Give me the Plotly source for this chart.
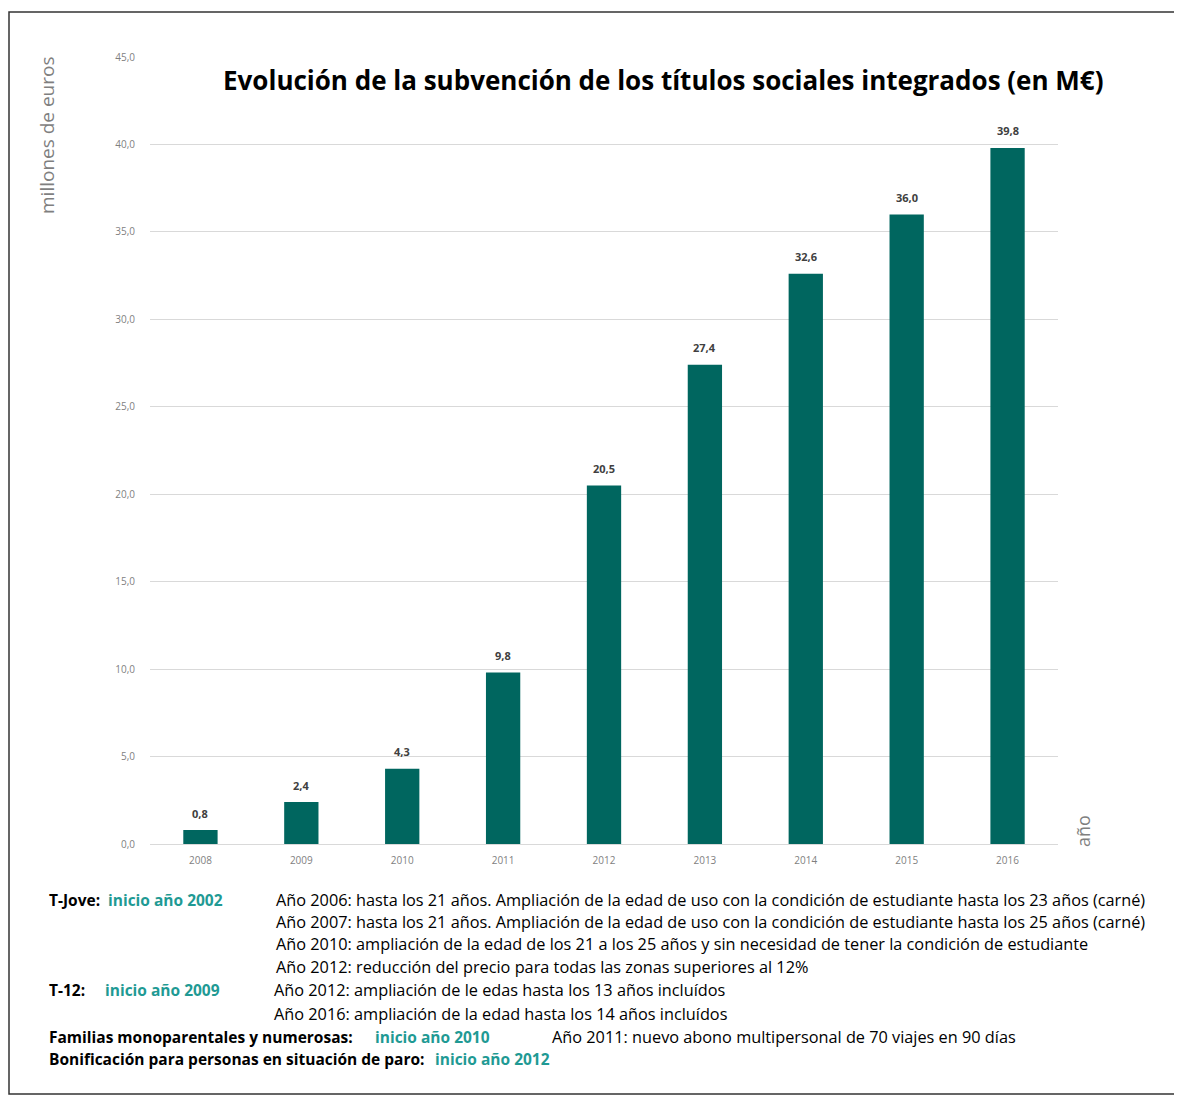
import plotly.graph_objects as go

years = ["2008", "2009", "2010", "2011", "2012", "2013", "2014", "2015", "2016"]
values = [0.8, 2.4, 4.3, 9.8, 20.5, 27.4, 32.6, 36.0, 39.8]
y_ticks = [0, 5, 10, 15, 20, 25, 30, 35, 40, 45]

BAR = "#00665f"
TEAL = "#1f9a94"
FONT = "Open Sans"

OFF = 8  # page body margin
W, H = 1174, 1088
# plot area in screen coordinates
SX0, SX1, SY0, SY1 = 150, 1058, 57, 844
L, T = SX0 - OFF, SY0 - OFF
R = W - (SX1 - OFF)
B = H - (SY1 - OFF)
PW, PH = SX1 - SX0, SY1 - SY0

def px(x):
    return (x - SX0) / PW

def py(y):
    return (SY1 - y) / PH

fig = go.Figure()
fig.add_trace(go.Bar(
    x=years, y=values, marker_color=BAR, marker_line_width=0,
    hoverinfo="x+y",
))

fig.update_layout(
    width=W, height=H,
    margin=dict(l=L, r=R, t=T, b=B),
    paper_bgcolor="white", plot_bgcolor="white",
    separators=",.",
    bargap=0.66,
    showlegend=False,
    font=dict(family=FONT),
    xaxis=dict(type="category", range=[-0.5, len(years) - 0.5], autorange=False,
               showgrid=False, showline=False, ticks="", ticklabelstandoff=9,
               tickfont=dict(size=10, color="#7f7f7f")),
    yaxis=dict(range=[0, 45], autorange=False, tickvals=y_ticks, tickformat=".1f",
               showgrid=True, gridcolor="#d9d9d9", gridwidth=1,
               zeroline=True, zerolinecolor="#d9d9d9", zerolinewidth=1,
               showline=False, ticks="", ticklabelstandoff=14,
               tickfont=dict(size=10, color="#7f7f7f")),
)

# outer border
fig.add_shape(type="rect", xref="paper", yref="paper",
              x0=px(9), x1=px(1180), y0=py(1094), y1=py(12),
              line=dict(color="#333333", width=1.5), fillcolor="rgba(0,0,0,0)", layer="below")

ann = []
# value labels above bars (x = category index)
for i, v in enumerate(values):
    ann.append(dict(xref="x", yref="y", x=i, y=v, text="<b>" + f"{v:.1f}".replace(".", ",") + "</b>",
                    font=dict(size=11, color="#404040"), xanchor="center", yanchor="middle",
                    yshift=17, showarrow=False))

ann.append(dict(x=px(663), y=py(80), text="<b>Evolución de la subvención de los títulos sociales integrados (en M€)</b>",
                font=dict(size=26, color="black"), xanchor="center", yanchor="middle"))
ann.append(dict(x=px(47), y=py(135), text="millones de euros", textangle=-90,
                font=dict(size=19, color="#7f7f7f"), xanchor="center", yanchor="middle"))
ann.append(dict(x=px(1083), y=py(831), text="año", textangle=-90,
                font=dict(size=18, color="#7f7f7f"), xanchor="center", yanchor="middle"))

def t(x, y, text, color="black", size=16.3):
    ann.append(dict(x=px(x), y=py(y), text=text, font=dict(size=size, color=color),
                    xanchor="left", yanchor="middle"))

t(47, 900, "<b>T-Jove:</b>", size=15.5)
t(106, 900, "<b>inicio año 2002</b>", TEAL, size=15.5)
t(274, 900, "Año 2006: hasta los 21 años. Ampliación de la edad de uso con la condición de estudiante hasta los 23 años (carné)")
t(274, 922, "Año 2007: hasta los 21 años. Ampliación de la edad de uso con la condición de estudiante hasta los 25 años (carné)")
t(274, 944, "Año 2010: ampliación de la edad de los 21 a los 25 años y sin necesidad de tener la condición de estudiante")
t(274, 967, "Año 2012: reducción del precio para todas las zonas superiores al 12%")
t(47, 990, "<b>T-12:</b>", size=15.5)
t(103, 990, "<b>inicio año 2009</b>", TEAL, size=15.5)
t(272, 990, "Año 2012: ampliación de le edas hasta los 13 años incluídos")
t(272, 1014, "Año 2016: ampliación de la edad hasta los 14 años incluídos")
t(47, 1037, "<b>Familias monoparentales y numerosas:</b>", size=15.5)
t(373, 1037, "<b>inicio año 2010</b>", TEAL, size=15.5)
t(550, 1037, "Año 2011: nuevo abono multipersonal de 70 viajes en 90 días")
t(47, 1059, "<b>Bonificación para personas en situación de paro:</b>", size=15.5)
t(433, 1059, "<b>inicio año 2012</b>", TEAL, size=15.5)

for a in ann:
    a.setdefault("xref", "paper")
    a.setdefault("yref", "paper")
    a["showarrow"] = False
fig.update_layout(annotations=ann)

fig.write_html("out.html")
